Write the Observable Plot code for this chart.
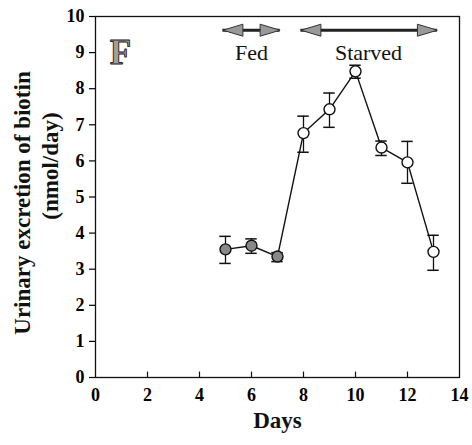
<!DOCTYPE html>
<html><head><meta charset="utf-8">
<script src="https://cdn.jsdelivr.net/npm/d3@7"></script>
<script src="https://cdn.jsdelivr.net/npm/@observablehq/plot@0.6"></script>
<style>body{margin:0;background:#fff}</style>
</head><body><div id="chart"></div>
<script>
const days = [5, 6, 7, 8, 9, 10, 11, 12, 13];
const excretion = [3.55, 3.65, 3.35, 6.77, 7.43, 8.48, 6.37, 5.96, 3.48];
const errLow = [3.16, 3.44, 3.21, 6.24, 6.93, 8.29, 6.15, 5.38, 2.97];
const errHigh = [3.91, 3.84, 3.46, 7.24, 7.88, 8.65, 6.55, 6.54, 3.94];
const phase = ["Fed","Fed","Fed","Starved","Starved","Starved","Starved","Starved","Starved"];
const xTicks = [0, 2, 4, 6, 8, 10, 12, 14];
const yTicks = [0,1,2,3,4,5,6,7,8,9,10];
const periodLabels = ["Fed", "Starved"];
const periodStart = [4.9, 7.9];
const periodEnd = [7.1, 13.15];
const periodLabelX = [6.0, 10.5];
const periodArrowY = 9.62;
const periodTextY = 9.0;

const data = days.map((d, i) => ({day: d, v: excretion[i], lo: errLow[i], hi: errHigh[i], phase: phase[i]}));
const periods = periodLabels.map((l, i) => ({label: l, x1: periodStart[i], x2: periodEnd[i], xm: periodLabelX[i]}));
const heads = periods.flatMap(p => [{x: p.x1, rot: 180}, {x: p.x2, rot: 0}]);

const arrowHead = {
  draw(ctx, size) {
    const r = Math.sqrt(size / Math.PI);
    ctx.moveTo(0, 0);
    ctx.lineTo(-2 * r, -0.6 * r);
    ctx.lineTo(-2 * r, 0.6 * r);
    ctx.closePath();
  }
};

const serif = "'Liberation Serif', 'Times New Roman', serif";
const capW = 0.22;

const chart = Plot.plot({
  width: 472,
  height: 445,
  marginLeft: 95,
  marginRight: 13,
  marginTop: 16,
  marginBottom: 68,
  style: {fontFamily: serif, background: "#fff"},
  x: {domain: [0, 14]},
  y: {domain: [0, 10]},
  marks: [
    Plot.frame({stroke: "#111", strokeWidth: 1.3}),
    Plot.axisX({ticks: xTicks, tickSize: 0, tickPadding: 11, fontSize: 18, fontWeight: "bold", label: null, tickFormat: d => d}),
    Plot.ruleX(xTicks.slice(1, -1), {y1: 0, y2: 0.15, stroke: "#111", strokeWidth: 1.2}),
    Plot.axisY({ticks: yTicks, tickSize: 6, tickPadding: 5, fontSize: 18, fontWeight: "bold", label: null, tickFormat: d => d, strokeWidth: 1.2}),
    Plot.text(["Days"], {frameAnchor: "bottom", dy: 50, fontSize: 23, fontWeight: "bold", fill: "#111"}),
    Plot.text(["Urinary excretion of biotin"], {frameAnchor: "left", textAnchor: "middle", rotate: -90, dx: -73, dy: 6, fontSize: 23, fontWeight: "bold", fill: "#111"}),
    Plot.text(["(nmol/day)"], {frameAnchor: "left", textAnchor: "middle", rotate: -90, dx: -45, dy: -31, fontSize: 23, fontWeight: "bold", fill: "#111"}),
    Plot.text(["F"], {x: 0.96, y: 9.0, fontSize: 35, fontWeight: "bold", fill: "#a0a0a0", stroke: "#222", strokeWidth: 0.9, paintOrder: "normal"}),
    Plot.ruleY(periods, {x1: "x1", x2: "x2", y: periodArrowY, stroke: "#222", strokeWidth: 3}),
    Plot.dot(heads, {x: "x", y: periodArrowY, rotate: "rot", symbol: arrowHead, r: 10, fill: "#999", stroke: "#333", strokeWidth: 1}),
    Plot.text(periods, {x: "xm", y: periodTextY, text: "label", fontSize: 22, fill: "#111"}),
    Plot.ruleX(data, {x: "day", y1: "lo", y2: "hi", stroke: "#111", strokeWidth: 1.3}),
    Plot.ruleY(data, {y: "lo", x1: d => d.day - capW, x2: d => d.day + capW, stroke: "#111", strokeWidth: 1.5}),
    Plot.ruleY(data, {y: "hi", x1: d => d.day - capW, x2: d => d.day + capW, stroke: "#111", strokeWidth: 1.5}),
    Plot.line(data, {x: "day", y: "v", stroke: "#111", strokeWidth: 1.4}),
    Plot.dot(data, {x: "day", y: "v", r: 5.5, fill: d => d.phase === "Fed" ? "#888" : "#fff", stroke: "#111", strokeWidth: 1.4})
  ]
});
document.getElementById("chart").appendChild(chart);
</script>
</body></html>
